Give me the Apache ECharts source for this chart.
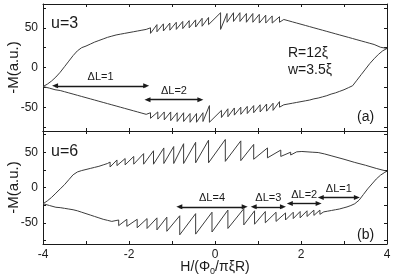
<!DOCTYPE html>
<html>
<head>
<meta charset="utf-8">
<script src="https://cdn.jsdelivr.net/npm/echarts@6/dist/echarts.min.js"></script>
<style>
  html, body { margin: 0; padding: 0; background: #fff; }
  #main { width: 399px; height: 278px; }
</style>
</head>
<body>
<div id="main"></div>
<script>
// tick values
var xLabels = [-4, -2, 0, 2, 4];
var yTicks = [-75, -50, -25, 0, 25, 50, 75];
var yLabels = [-50, 0, 50];

// panel (a), u=3 : upper branch, read left to right
var upA = [
  [-4.00,-24],[-3.90,-21],[-3.80,-17],[-3.70,-12],[-3.60,-6],[-3.50,1],[-3.40,8],[-3.30,15],[-3.20,21],
  [-3.10,25],[-3.10,22.5],[-3.00,27],[-3.00,24.5],[-2.90,29.5],[-2.90,27],[-2.80,32],[-2.80,29.5],
  [-2.70,34],[-2.70,31.5],[-2.60,36],[-2.60,33.5],[-2.50,38],[-2.50,35.5],[-2.40,39.5],[-2.40,37],
  [-2.30,41],[-2.30,38.5],[-2.20,42],[-2.20,39.5],[-2.10,43],[-2.10,40.5],[-2.00,44],[-2.00,41.5],
  [-1.90,45],[-1.90,42.5],[-1.80,46],[-1.80,43.5],[-1.70,47],[-1.70,44.5],[-1.60,48],[-1.60,45.5],
  [-1.50,50],[-1.50,43],[-1.35,54],[-1.35,45],[-1.20,55],[-1.20,46],[-1.05,56],[-1.05,47],
  [-0.90,57],[-0.90,48],[-0.75,58],[-0.75,49],[-0.60,59],[-0.60,50],[-0.45,60],[-0.45,51],
  [-0.30,62],[-0.30,52],[-0.15,63],[-0.15,54],[0.13,69],[0.13,48],[0.28,68],[0.28,57],
  [0.43,69],[0.43,58],[0.58,69],[0.58,58],[0.73,68],[0.73,57],[0.88,68],[0.88,57],
  [1.03,67],[1.03,56],[1.18,66],[1.18,56],[1.33,65],[1.33,56],[1.50,64],[1.50,57],
  [1.60,60.5],[1.60,58],[1.70,59],[1.70,56.5],[1.80,57.5],[1.80,55],[1.90,56],[1.90,53.5],
  [2.00,54.5],[2.00,52],[2.10,53],[2.10,50.5],[2.20,51.5],[2.20,49],[2.30,50],[2.30,47.5],
  [2.40,48.5],[2.40,46],[2.50,47],[2.50,44.5],[2.60,45.5],[2.60,43],[2.70,44],[2.70,41.5],
  [2.80,42.5],[2.80,40],[2.90,41],[2.90,38.5],[3.00,39.5],[3.00,37],[3.10,38],[3.10,35.5],
  [3.20,36.5],[3.20,34],[3.30,35],[3.30,32.5],[3.40,33.5],[3.40,31],[3.50,32],[3.50,29.5],
  [3.60,30.5],[3.60,28],[3.70,29],[3.70,27],[3.85,25.5],[4.00,24]
];

// panel (a), lower branch
var loA = [
  [-4.00,-24],[-3.85,-26],[-3.72,-28],
  [-3.60,-29],[-3.60,-31.5],[-3.50,-30.5],[-3.50,-33],[-3.40,-32],[-3.40,-34.5],[-3.30,-33.5],[-3.30,-36],
  [-3.20,-35],[-3.20,-37.5],[-3.10,-36.5],[-3.10,-39],[-3.00,-38],[-3.00,-40.5],[-2.90,-39.5],[-2.90,-42],
  [-2.80,-41],[-2.80,-43.5],[-2.70,-42.5],[-2.70,-45],[-2.60,-44],[-2.60,-46.5],[-2.50,-45.5],[-2.50,-48],
  [-2.40,-47],[-2.40,-49.5],[-2.30,-48.5],[-2.30,-51],[-2.20,-50],[-2.20,-52.5],[-2.10,-51.5],[-2.10,-54],
  [-2.00,-53],[-2.00,-55.5],[-1.90,-54.5],[-1.90,-57],[-1.80,-56],[-1.80,-58.5],[-1.70,-57.5],[-1.70,-60],
  [-1.60,-59],[-1.60,-61],
  [-1.50,-57],[-1.50,-64],[-1.33,-56],[-1.33,-65],[-1.18,-56],[-1.18,-66],[-1.03,-56],[-1.03,-67],
  [-0.88,-57],[-0.88,-68],[-0.73,-57],[-0.73,-68],[-0.58,-58],[-0.58,-69],[-0.43,-58],[-0.43,-69],
  [-0.28,-57],[-0.28,-68],[-0.13,-48],[-0.13,-69],[0.15,-54],[0.15,-63],[0.30,-52],[0.30,-62],
  [0.45,-51],[0.45,-60],[0.60,-50],[0.60,-59],[0.75,-49],[0.75,-58],[0.90,-48],[0.90,-57],
  [1.05,-47],[1.05,-56],[1.20,-46],[1.20,-55],[1.35,-45],[1.35,-54],[1.50,-43],[1.50,-50],
  [1.60,-47],[1.60,-49.5],[1.70,-46],[1.70,-48.5],[1.80,-45],[1.80,-47.5],[1.90,-44],[1.90,-46.5],
  [2.00,-43],[2.00,-45.5],[2.10,-42],[2.10,-44.5],[2.20,-41],[2.20,-43.5],[2.30,-39.5],[2.30,-42],
  [2.40,-38.5],[2.40,-41],[2.50,-37],[2.50,-39.5],[2.60,-35.5],[2.60,-38],[2.70,-33.5],[2.70,-36],
  [2.80,-32],[2.80,-34.5],[2.90,-30],[2.90,-32.5],[3.00,-28],[3.00,-30.5],[3.10,-25.5],[3.10,-28],
  [3.20,-23],[3.30,-16],[3.40,-9],[3.50,-2],[3.60,5],[3.70,11],[3.80,16.5],[3.90,21],[4.00,24]
];

// panel (b), u=6 : upper branch
var upB = [
  [-4.00,-23],[-3.90,-19],[-3.80,-14],[-3.70,-8],[-3.60,-2],[-3.50,4],[-3.40,11],[-3.30,18],
  [-3.20,22],[-3.20,20],[-3.10,24],[-3.10,22],[-3.00,25.5],[-3.00,23.5],[-2.90,27],[-2.90,25],
  [-2.80,28.5],[-2.80,26.5],[-2.70,30],[-2.70,28],[-2.60,32],[-2.60,30],[-2.50,34],[-2.50,32],
  [-2.44,36],[-2.44,29],[-2.28,39],[-2.28,31],[-2.09,41],[-2.09,32],[-1.89,44],[-1.89,33],
  [-1.66,48],[-1.66,33],[-1.43,52],[-1.43,33],[-1.19,56],[-1.19,34],[-0.96,58],[-0.96,34],
  [-0.73,62],[-0.73,34],[-0.45,64],[-0.45,35],[-0.15,67],[-0.15,35],[0.24,68],[0.24,37],
  [0.60,66],[0.60,38],[0.90,61],[0.90,40],[1.22,56],[1.22,42],[1.53,53],[1.53,44],
  [1.76,50],[1.76,46],[1.90,50.5],[1.90,48],[2.02,51],[2.02,48.5],[2.14,50.5],[2.14,48.5],
  [2.26,50],[2.26,48],[2.40,49.5],[2.40,48],[2.55,47.5],[2.55,46],[2.70,45],[2.70,43.5],
  [3.00,40],[3.25,35.5],[3.50,31.5],[3.75,27],[4.00,23]
];

// panel (b), lower branch
var loB = [
  [-4.00,-23],[-3.85,-25.5],[-3.70,-28],
  [-3.60,-28.5],[-3.60,-30.5],[-3.50,-29.5],[-3.50,-31.5],[-3.40,-30.5],[-3.40,-32.5],[-3.30,-31.5],[-3.30,-33.5],
  [-3.20,-33],[-3.20,-35],[-3.10,-35],[-3.10,-37],[-3.00,-37],[-3.00,-39],[-2.90,-39],[-2.90,-41],
  [-2.80,-41],[-2.80,-43],[-2.70,-43],[-2.70,-45],[-2.60,-45],[-2.60,-47],[-2.50,-46.5],[-2.50,-48.5],
  [-2.40,-48],[-2.40,-50.5],
  [-2.24,-46],[-2.24,-54],[-2.05,-45],[-2.05,-55],[-1.81,-45],[-1.81,-57],[-1.58,-44],[-1.58,-58],
  [-1.35,-43],[-1.35,-60],[-1.12,-42],[-1.12,-62],
  [-0.82,-40],[-0.82,-67],[-0.45,-37],[-0.45,-66],[-0.07,-35],[-0.07,-63],[0.30,-32],[0.30,-58],
  [0.67,-30],[0.67,-53],
  [0.92,-33],[0.92,-52],[1.17,-34],[1.17,-50],[1.42,-35],[1.42,-48],[1.64,-36],[1.64,-46],
  [1.82,-35],[1.82,-44],[1.98,-34],[1.98,-43],[2.14,-33],[2.14,-41],[2.30,-32],[2.30,-39.5],
  [2.44,-32],[2.44,-38],
  [2.53,-34.5],[2.53,-37],[2.62,-33.5],[2.62,-36],[2.71,-32.5],[2.71,-35],[2.80,-31.5],[2.80,-34],
  [2.89,-30.5],[2.89,-33],[2.98,-29],[2.98,-31.5],[3.07,-27.5],[3.07,-30],[3.16,-25.5],[3.16,-28],
  [3.25,-23],[3.25,-25],
  [3.35,-18],[3.45,-10],[3.55,-2],[3.65,5],[3.75,12],[3.85,17.5],[3.95,21.5],[4.00,23]
];

// double arrows: [from x, to x, y, label]
var arrowsA = [
  [-3.72, -1.60, -23, 'ΔL=1'],
  [-1.57, -0.34, -40.6, 'ΔL=2']
];
var arrowsB = [
  [-0.83, 0.69, -27.4, 'ΔL=4'],
  [0.90, 1.58, -27.4, 'ΔL=3'],
  [1.74, 2.41, -22.6, 'ΔL=2'],
  [2.46, 3.30, -14, 'ΔL=1']
];

var font = '"Liberation Sans", Arial, Helvetica, sans-serif';
var ink = '#1a1a1a';
var curve = '#3c3c3c';

var gridTop = [4, 131];
var gridH = [127, 113];

function axisLineStyle() {
  return { show: true, onZero: false, lineStyle: { color: ink, width: 1 } };
}

var grids = [], xAxes = [], yAxes = [];
for (var g = 0; g < 2; g++) {
  grids.push({ left: 43, right: 12, top: gridTop[g], height: gridH[g], containLabel: false, outerBoundsMode: 'none' });
  ['bottom', 'top'].forEach(function (pos) {
    var showLab = (g === 1 && pos === 'bottom');
    xAxes.push({
      type: 'value', gridIndex: g, position: pos, min: -4, max: 4, interval: 1,
      axisLine: axisLineStyle(),
      axisTick: { inside: true, length: 3, lineStyle: { color: ink } },
      axisLabel: {
        show: showLab, color: ink, fontSize: 12, fontFamily: font, margin: 5,
        formatter: function (v) { return xLabels.indexOf(v) >= 0 ? String(v) : ''; }
      },
      splitLine: { show: false },
      name: showLab ? 'H/(Φ{s|0}/πξR)' : '',
      nameLocation: 'middle', nameGap: 23, nameMoveOverlap: false,
      nameTextStyle: {
        color: ink, fontSize: 14, fontFamily: font, lineHeight: 18, verticalAlign: 'middle',
        rich: { s: { fontSize: 9, lineHeight: 9, verticalAlign: 'bottom', fontFamily: font, color: ink } }
      }
    });
  });
  ['left', 'right'].forEach(function (pos) {
    var left = pos === 'left';
    yAxes.push({
      type: 'value', gridIndex: g, position: pos, min: -80, max: 80,
      axisLine: axisLineStyle(),
      axisTick: { inside: true, length: 3, customValues: yTicks, lineStyle: { color: ink } },
      axisLabel: { show: left, customValues: yLabels, color: ink, fontSize: 12, fontFamily: font, margin: 5 },
      splitLine: { show: false },
      name: left ? '-M(a.u.)' : '',
      nameLocation: 'middle', nameRotate: 90, nameGap: 22, nameMoveOverlap: false,
      nameTextStyle: { color: ink, fontSize: 15, fontFamily: font }
    });
  });
}

function arrowLines(list) {
  return list.map(function (a) {
    return [
      { coord: [a[0], a[2]], label: { formatter: a[3] } },
      { coord: [a[1], a[2]] }
    ];
  });
}

function branch(data, g, arrows) {
  var s = {
    type: 'line', data: data, xAxisIndex: g * 2, yAxisIndex: g * 2,
    showSymbol: false, symbol: 'none', silent: true, animation: false,
    lineStyle: { color: curve, width: 1 }
  };
  if (arrows) {
    s.markLine = {
      silent: true, animation: false,
      symbol: ['triangle', 'triangle'], symbolSize: [5, 6],
      lineStyle: { color: ink, width: 1.4, type: 'solid' },
      label: { show: true, position: 'middle', distance: 3, color: ink, fontSize: 11, fontFamily: font },
      emphasis: { disabled: true },
      data: arrowLines(arrows)
    };
  }
  return s;
}

var chart = echarts.init(document.getElementById('main'), null, { renderer: 'canvas' });
chart.setOption({
  backgroundColor: '#fff',
  animation: false,
  grid: grids,
  xAxis: xAxes,
  yAxis: yAxes,
  series: [
    branch(upA, 0), branch(loA, 0, arrowsA),
    branch(upB, 1), branch(loB, 1, arrowsB)
  ],
  graphic: [
    { type: 'text', left: 51, top: 16, style: { text: 'u=3', font: '16px ' + font, fill: ink } },
    { type: 'text', left: 288, top: 46, style: { text: 'R=12ξ', font: '14px ' + font, fill: ink } },
    { type: 'text', left: 288, top: 63, style: { text: 'w=3.5ξ', font: '14px ' + font, fill: ink } },
    { type: 'text', left: 357, top: 110, style: { text: '(a)', font: '14px ' + font, fill: ink } },
    { type: 'text', left: 51, top: 144, style: { text: 'u=6', font: '16px ' + font, fill: ink } },
    { type: 'text', left: 357, top: 228, style: { text: '(b)', font: '14px ' + font, fill: ink } }
  ]
});
</script>
</body>
</html>
